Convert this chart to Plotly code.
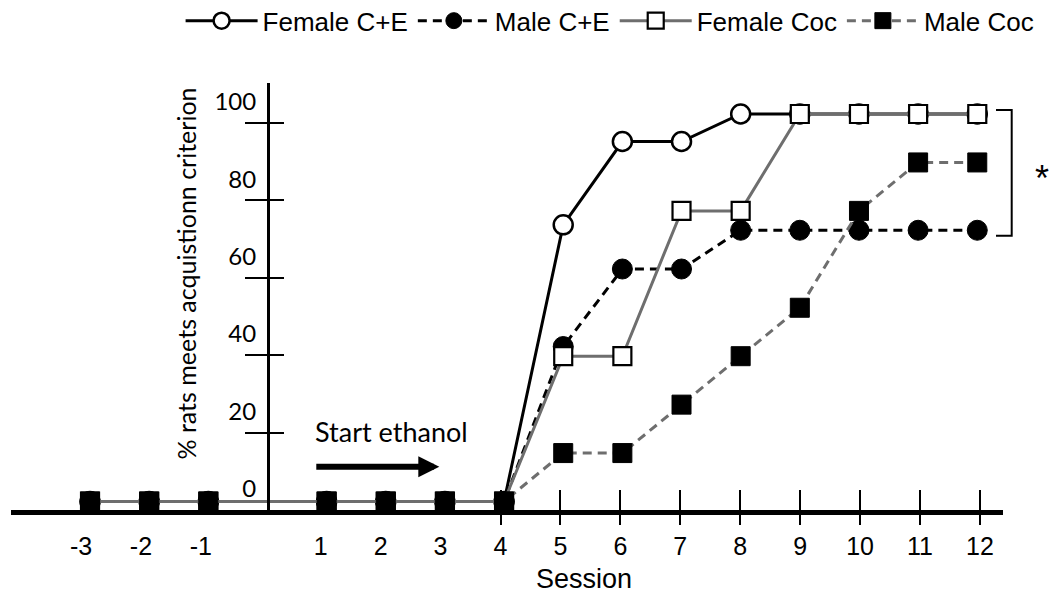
import plotly.graph_objects as go

# ---- data ----
sessions = [-3, -2, -1, 1, 2, 3, 4, 5, 6, 7, 8, 9, 10, 11, 12]
female_ce = [0, 0, 0, 0, 0, 0, 0, 71.4, 92.9, 92.9, 100, 100, 100, 100, 100]
male_ce = [0, 0, 0, 0, 0, 0, 0, 40, 60, 60, 70, 70, 70, 70, 70]
female_coc = [0, 0, 0, 0, 0, 0, 0, 37.5, 37.5, 75, 75, 100, 100, 100, 100]
male_coc = [0, 0, 0, 0, 0, 0, 0, 12.5, 12.5, 25, 37.5, 50, 75, 87.5, 87.5]

x_tick_vals = [-3, -2, -1, 1, 2, 3, 4, 5, 6, 7, 8, 9, 10, 11, 12]
x_tick_text = ["-3", "-2", "-1", "1", "2", "3", "4", "5", "6", "7", "8", "9", "10", "11", "12"]
x_mark_vals = [4, 5, 6, 7, 8, 9, 10, 11, 12]
y_tick_vals = [0, 20, 40, 60, 80, 100]
y_tick_text = ["0", "20", "40", "60", "80", "100"]
y_mark_vals = [20, 40, 60, 80, 100]

ARIAL = "Liberation Sans, Arial, sans-serif"
CAL = "Lato, Open Sans, sans-serif"
GRAY = "#6e6e6e"

fig = go.Figure()
fig.add_trace(go.Scatter(
    x=sessions, y=female_ce, name="Female C+E", mode="lines+markers",
    line=dict(color="black", width=3),
    marker=dict(symbol="circle", size=19, color="white", line=dict(color="black", width=2.5)),
    cliponaxis=False))
fig.add_trace(go.Scatter(
    x=sessions, y=male_ce, name="Male C+E", mode="lines+markers",
    line=dict(color="black", width=3, dash="9px,6px"),
    marker=dict(symbol="circle", size=20, color="black", line=dict(color="black", width=1)),
    cliponaxis=False))
fig.add_trace(go.Scatter(
    x=sessions, y=female_coc, name="Female Coc", mode="lines+markers",
    line=dict(color=GRAY, width=3),
    marker=dict(symbol="square", size=18, color="white", line=dict(color="black", width=2.2)),
    cliponaxis=False))
fig.add_trace(go.Scatter(
    x=sessions, y=male_coc, name="Male Coc", mode="lines+markers",
    line=dict(color=GRAY, width=3, dash="9px,6px"),
    marker=dict(symbol="square", size=19, color="black", line=dict(color="black", width=1)),
    cliponaxis=False))

# empty helper traces so that the overlaid axis subplots are created and drawn
for xa, ya in [("x2", "y2"), ("x3", "y2"), ("x4", "y2"), ("x2", "y3"), ("x2", "y4")]:
    fig.add_trace(go.Scatter(x=[None], y=[None], xaxis=xa, yaxis=ya, mode="markers",
                             showlegend=False, hoverinfo="skip"))

# plot area: left 11, right 1003, top 83, bottom 510 (px)
L, R, T, B = 11, 1003, 83, 510
W, H = 1050, 593
yaxis_pos = (268 - L) / (R - L)

data_xrange = [-4.336, 12.435]
label_xrange = [-4.168, 12.385]
label_yrange = [0, 110.25]

fig.update_layout(
    width=W, height=H,
    margin=dict(l=L, r=W - R, t=T, b=H - B, autoexpand=False),
    paper_bgcolor="white", plot_bgcolor="rgba(0,0,0,0)",
    showlegend=True,
    legend=dict(orientation="h", xref="container", yref="container",
                x=0.172, y=0.965, xanchor="left", yanchor="middle",
                font=dict(family=ARIAL, size=26, color="black"),
                itemwidth=72,
                bgcolor="rgba(0,0,0,0)", traceorder="normal"),
    xaxis=dict(range=data_xrange, visible=False, fixedrange=True),
    yaxis=dict(range=[-2.19, 108.0], visible=False, fixedrange=True),
    # labels x axis
    xaxis2=dict(overlaying="x", anchor="y2", range=label_xrange,
                showline=True, linecolor="black", linewidth=5,
                showgrid=False, zeroline=False,
                tickmode="array", tickvals=x_tick_vals, ticktext=x_tick_text,
                ticks="", ticklabelstandoff=10,
                tickfont=dict(family=ARIAL, size=25, color="black")),
    xaxis3=dict(overlaying="x", anchor="y2", range=label_xrange,
                showline=False, showgrid=False, zeroline=False, showticklabels=False,
                tickmode="array", tickvals=x_mark_vals,
                ticks="outside", ticklen=14, tickwidth=2, tickcolor="black"),
    xaxis4=dict(overlaying="x", anchor="y2", range=label_xrange,
                showline=False, showgrid=False, zeroline=False, showticklabels=False,
                tickmode="array", tickvals=x_mark_vals,
                ticks="inside", ticklen=20, tickwidth=2, tickcolor="black"),
    yaxis2=dict(overlaying="y", anchor="free", position=yaxis_pos, range=label_yrange,
                showline=True, linecolor="black", linewidth=3,
                showgrid=False, zeroline=False,
                tickmode="array", tickvals=y_tick_vals, ticktext=y_tick_text,
                ticks="", ticklabelstandoff=6, ticklabelshift=-21,
                tickfont=dict(family=CAL, size=24, color="black")),
    yaxis3=dict(overlaying="y", anchor="free", position=yaxis_pos, range=label_yrange,
                showline=False, showgrid=False, zeroline=False, showticklabels=False,
                tickmode="array", tickvals=y_mark_vals,
                ticks="inside", ticklen=15, tickwidth=2, tickcolor="black"),
    yaxis4=dict(overlaying="y", anchor="free", position=yaxis_pos, range=label_yrange,
                showline=False, showgrid=False, zeroline=False, showticklabels=False,
                tickmode="array", tickvals=y_mark_vals,
                ticks="outside", ticklen=23, tickwidth=2, tickcolor="black"),
)

# bracket for significance
bx1 = (1011.7 - L) / (R - L)
bx0 = (996 - L) / (R - L)
by1 = (B - 110) / (B - T)
by0 = (B - 235.7) / (B - T)
fig.add_shape(type="path", xref="paper", yref="paper",
              path=f"M {bx0} {by1} L {bx1} {by1} L {bx1} {by0} L {bx0} {by0}",
              line=dict(color="black", width=2))

fig.add_annotation(text="*", xref="paper", yref="paper",
                   x=(1051 - L) / (R - L), y=(B - 156) / (B - T),
                   showarrow=False, font=dict(family=ARIAL, size=36, color="black"))

fig.add_annotation(text="% rats meets acquistionn criterion", textangle=-90,
                   xref="paper", yref="paper",
                   x=(185 - L) / (R - L), y=(B - 273.5) / (B - T),
                   xanchor="center", yanchor="middle", showarrow=False,
                   font=dict(family=CAL, size=25, color="black"))

fig.add_annotation(text="Session", xref="paper", yref="paper",
                   x=(583.5 - L) / (R - L), y=(B - 579) / (B - T),
                   xanchor="center", yanchor="middle", showarrow=False,
                   font=dict(family=ARIAL, size=27, color="black"))

fig.add_annotation(text="Start ethanol", xref="paper", yref="paper",
                   x=(313 - L) / (R - L), y=(B - 431.7) / (B - T),
                   xanchor="left", yanchor="middle", showarrow=False,
                   font=dict(family=CAL, size=27, color="black"))

fig.add_annotation(text="", xref="x", yref="y", axref="x", ayref="y",
                   x=2.905, y=9.0, ax=0.80, ay=9.0,
                   showarrow=True, arrowhead=2, arrowsize=0.7, arrowwidth=6,
                   arrowcolor="black", standoff=0, startstandoff=0)

fig.write_html("out.html")
